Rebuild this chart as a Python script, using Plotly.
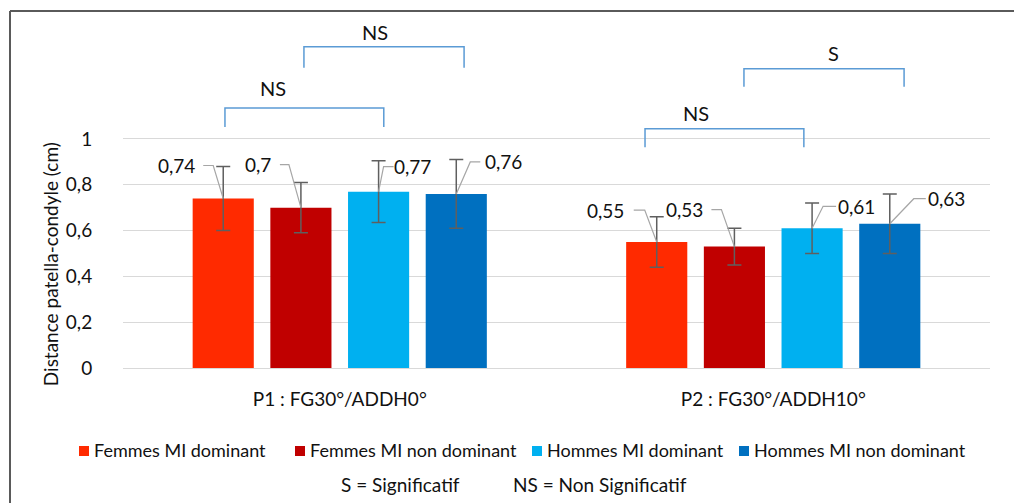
import plotly.graph_objects as go

# ---- data -------------------------------------------------------------
categories = ["P1 : FG30°/ADDH0°", "P2 : FG30°/ADDH10°"]
series_names = ["Femmes MI dominant", "Femmes MI non dominant",
                "Hommes MI dominant", "Hommes MI non dominant"]

femmes_dominant = [0.74, 0.55]
femmes_non_dominant = [0.70, 0.53]
hommes_dominant = [0.77, 0.61]
hommes_non_dominant = [0.76, 0.63]

sd_femmes_dominant = [0.14, 0.11]
sd_femmes_non_dominant = [0.11, 0.08]
sd_hommes_dominant = [0.135, 0.11]
sd_hommes_non_dominant = [0.15, 0.13]

y_tick_vals = [0, 0.2, 0.4, 0.6, 0.8, 1]
y_tick_text = ["0", "0,2", "0,4", "0,6", "0,8", "1"]

# significance tests: (category, series a, series b, result)
tests = [
    (0, 0, 2, "NS"),
    (0, 1, 3, "NS"),
    (1, 0, 2, "NS"),
    (1, 1, 3, "S"),
]

# ---- styling ------------------------------------------------------------
FONT = "Lato"
TEXT = "#111111"
colors = ["#FF2A00", "#C00000", "#00B0F0", "#0070C0"]
slot = 0.1792          # spacing between neighbouring bars (category units)
bar_width = 0.141
err_color = "#5F5F5F"
leader_color = "#A6A6A6"
bracket_color = "#5B9BD5"

# plot-area geometry in pixels (used to place items outside the axes)
L, R, T, B = 123, 24, 13, 135
W, H = 1014, 503
PW, PH = W - L - R, H - T - B


def px_to_paper(px, py):
    return (px - L) / PW, (H - B - py) / PH


values = [femmes_dominant, femmes_non_dominant, hommes_dominant, hommes_non_dominant]
errors = [sd_femmes_dominant, sd_femmes_non_dominant, sd_hommes_dominant, sd_hommes_non_dominant]


def bar_x(cat, k):
    return cat + (k - 1.5) * slot


fig = go.Figure()
for k, name in enumerate(series_names):
    fig.add_trace(go.Bar(
        name=name,
        x=[bar_x(c, k) for c in range(len(categories))],
        y=values[k],
        width=bar_width,
        showlegend=False,
        marker=dict(color=colors[k], line=dict(width=0)),
        error_y=dict(type="data", array=errors[k], visible=True,
                     color=err_color, thickness=1.5, width=7),
    ))

# value labels with leader lines (pixel offsets from the top of each bar):
# text centre (dx, dy), elbow dx, line start next to the text (dx)
label_layout = {
    (0, 0): (-47, 33, -10, -20),
    (0, 1): (-43, 43, -12, -21),
    (0, 2): (34, 25, 5, 15),
    (0, 3): (47, 32, 14, 24),
    (1, 0): (-51, 32, -12, -23),
    (1, 1): (-50, 37, -13, -23),
    (1, 2): (44, 22, 11, 24),
    (1, 3): (57, 25, 24, 36),
}

shapes = []
annotations = []
for c in range(len(categories)):
    for k in range(len(series_names)):
        v = values[k][c]
        tdx, tdy, edx, sdx = label_layout[(c, k)]
        x0 = bar_x(c, k)
        shapes.append(dict(
            type="path", xref="x", yref="y",
            xsizemode="pixel", ysizemode="pixel",
            xanchor=x0, yanchor=v,
            path=f"M 0,0 L {edx},{tdy} L {sdx},{tdy}",
            line=dict(color=leader_color, width=1.2),
        ))
        annotations.append(dict(
            x=x0, y=v, xref="x", yref="y",
            text=f"{v:g}".replace(".", ","),
            showarrow=False, xshift=tdx, yshift=tdy,
            xanchor="center", yanchor="middle",
            font=dict(family=FONT, size=19, color=TEXT),
        ))

# significance brackets: x nudges, y bottom/top, label position
bracket_layout = [
    (0.004, 0.012, 1.052, 1.135, -0.153, 1.223),
    (0.007, 0.018, 1.311, 1.403, 0.081, 1.469),
    (-0.027, -0.019, 0.964, 1.045, 0.821, 1.115),
    (0.022, 0.033, 1.228, 1.307, 1.140, 1.377),
]
for (c, a, b, res), (na, nb, yb, yt, lx, ly) in zip(tests, bracket_layout):
    xa = bar_x(c, a) + na
    xb = bar_x(c, b) + nb
    shapes.append(dict(
        type="path", xref="x", yref="y",
        path=f"M {xa},{yb} L {xa},{yt} L {xb},{yt} L {xb},{yb}",
        line=dict(color=bracket_color, width=1.5),
    ))
    annotations.append(dict(
        x=lx, y=ly, xref="x", yref="y", text=res, showarrow=False,
        xanchor="center", yanchor="middle",
        font=dict(family=FONT, size=20, color=TEXT),
    ))

# y-axis title
annotations.append(dict(
    x=-0.084, y=0.454, xref="paper", yref="y",
    text="Distance patella-condyle (cm)", textangle=-90, showarrow=False,
    xanchor="center", yanchor="middle",
    font=dict(family=FONT, size=19, color=TEXT),
))

# legend row: square swatch followed by the series name
legend_starts = [79, 295, 532, 739]
legend_y = 451
for k, name in enumerate(series_names):
    sx0, sy0 = px_to_paper(legend_starts[k], legend_y - 5)
    sx1, sy1 = px_to_paper(legend_starts[k] + 10, legend_y + 5)
    shapes.append(dict(type="rect", xref="paper", yref="paper",
                       x0=sx0, x1=sx1, y0=sy1, y1=sy0,
                       fillcolor=colors[k], line=dict(width=0)))
    tx, ty = px_to_paper(legend_starts[k] + 13, legend_y - 1)
    annotations.append(dict(x=tx, y=ty, xref="paper", yref="paper",
                            text=name, showarrow=False,
                            xanchor="left", yanchor="middle",
                            font=dict(family=FONT, size=18, color=TEXT)))

# footnote
for txt, xpix in [("S = Significatif", 400), ("NS = Non Significatif", 600)]:
    fx, fy = px_to_paper(xpix, 484)
    annotations.append(dict(x=fx, y=fy, xref="paper", yref="paper",
                            text=txt, showarrow=False,
                            xanchor="center", yanchor="middle",
                            font=dict(family=FONT, size=19, color=TEXT)))

# outer frame (top and left edges)
fx0, fy0 = px_to_paper(10, 11)
fx1, fy1 = px_to_paper(W + 10, H + 10)
shapes.append(dict(type="line", xref="paper", yref="paper",
                   x0=fx0, x1=fx1, y0=fy0, y1=fy0,
                   line=dict(color="#5A5A5A", width=2)))
shapes.append(dict(type="line", xref="paper", yref="paper",
                   x0=fx0, x1=fx0, y0=fy0, y1=fy1,
                   line=dict(color="#5A5A5A", width=2)))

fig.update_layout(
    width=W, height=H,
    margin=dict(l=L, r=R, t=T, b=B),
    paper_bgcolor="white", plot_bgcolor="white",
    barmode="overlay",
    font=dict(family=FONT, size=19, color=TEXT),
    showlegend=False,
    shapes=shapes,
    annotations=annotations,
)
fig.update_xaxes(range=[-0.5, 1.5], tickvals=list(range(len(categories))),
                 ticktext=categories, showgrid=False, zeroline=False,
                 showline=False, ticks="outside", ticklen=14,
                 tickcolor="rgba(0,0,0,0)",
                 tickfont=dict(family=FONT, size=19, color=TEXT))
fig.update_yaxes(range=[0, 1.55], tickvals=y_tick_vals, ticktext=y_tick_text,
                 showgrid=True, gridcolor="#D9D9D9", gridwidth=1,
                 zeroline=True, zerolinecolor="#D9D9D9", zerolinewidth=1,
                 showline=False, ticks="outside", ticklen=26,
                 tickcolor="rgba(0,0,0,0)",
                 tickfont=dict(family=FONT, size=19, color=TEXT))

fig.write_html("out.html")
